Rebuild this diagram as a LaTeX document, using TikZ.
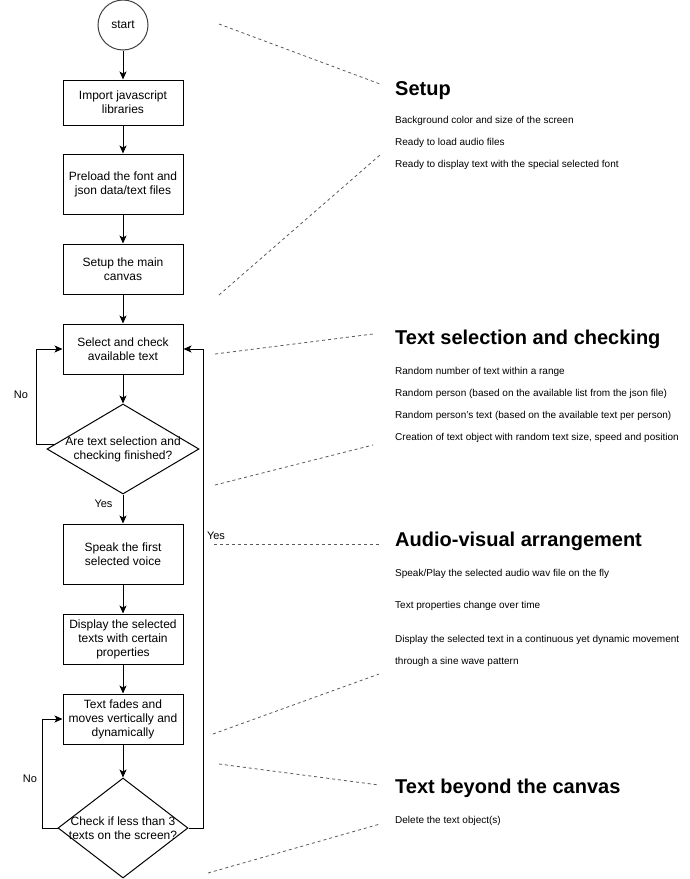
\documentclass[tikz,border=0pt]{standalone}
\usepackage{fontspec}
\setmainfont{Liberation Sans}
\usetikzlibrary{arrows.meta,shapes.geometric,calc}
\begin{document}
\begin{tikzpicture}[x=1pt,y=-1pt,
  box/.style={draw, line width=1pt, minimum width=120pt, align=center, inner sep=2pt, font=\fontsize{12}{14}\selectfont},
  dec/.style={diamond, draw, line width=1pt, inner sep=0pt},
  dtext/.style={font=\fontsize{12}{14}\selectfont, align=center, inner sep=0pt},
  arr/.style={line width=1pt, -{Stealth[length=8pt,width=7pt,inset=2pt]}},
  flow/.style={line width=1pt},
  lab/.style={font=\fontsize{11}{13}\selectfont, inner sep=0pt},
  annot/.style={draw=black!65, line width=0.8pt, dash pattern=on 3pt off 3pt},
  head/.style={font=\fontsize{20}{24}\selectfont\bfseries, anchor=base west, inner sep=0pt},
  item/.style={font=\fontsize{10}{12}\selectfont, anchor=base west, inner sep=0pt}]
\useasboundingbox (0,0) rectangle (690,879);

% flow nodes
\node[circle, draw=black!75, line width=1pt, minimum size=50pt, inner sep=0pt, font=\fontsize{12}{14}\selectfont] (start) at (123,25) {start};
\node[box, minimum height=45pt] (imp) at (123,102.5) {Import javascript\\libraries};
\node[box, minimum height=60pt] (pre) at (123,184) {Preload the font and\\json data/text files};
\node[box, minimum height=50pt] (canv) at (123,269) {Setup the main\\canvas};
\node[box, minimum height=50pt] (sel) at (123,349) {Select and check\\available text};
\node[dec, minimum width=152pt, minimum height=90pt,
  label={[dtext]center:Are text selection and\\checking finished?}] (d1) at (123,449) {};
\node[box, minimum height=60pt] (spk) at (123,554) {Speak the first\\selected voice};
\node[box, minimum height=50pt] (disp) at (123,639) {Display the selected\\texts with certain\\properties};
\node[box, minimum height=50pt] (fade) at (123,719) {Text fades and\\moves vertically and\\dynamically};
\node[dec, minimum width=130pt, minimum height=100pt,
  label={[dtext]center:Check if less than 3\\texts on the screen?}] (d2) at (123,828) {};

% connectors
\draw[arr] (start) -- (imp);
\draw[arr] (imp) -- (pre);
\draw[arr] (pre) -- (canv);
\draw[arr] (canv) -- (sel);
\draw[arr] (sel) -- (d1);
\draw[arr] (d1) -- (spk);
\draw[arr] (spk) -- (disp);
\draw[arr] (disp) -- (fade);
\draw[arr] (fade) -- (d2);
\draw[arr] ($(d1.west)!0.11!(d1.north)$) -- ++(-18,0) |- (sel.west);
\draw[arr] (d2.east) -- ++(15,0) |- (sel.east);
\draw[arr] (d2.west) -- ++(-15,0) |- (fade.west);

% labels
\node[lab] (no1) at (21,394.5) {No};
\node[lab] (yes1) at (103.5,504) {Yes};
\node[lab] (yes2) at (216,536) {Yes};
\node[lab] (no2) at (30,779) {No};

% annotation dashed lines
\coordinate (a1s) at (219,24);  \coordinate (a1e) at (380,84);
\coordinate (a2s) at (219,295); \coordinate (a2e) at (380,155);
\coordinate (a3s) at (215,354); \coordinate (a3e) at (373,334);
\coordinate (a4s) at (215,485); \coordinate (a4e) at (373,445);
\coordinate (a5s) at (214,544); \coordinate (a5e) at (379,544);
\coordinate (a6s) at (213,734); \coordinate (a6e) at (379,674);
\coordinate (a7s) at (219,764); \coordinate (a7e) at (379,785);
\coordinate (a8s) at (208,873); \coordinate (a8e) at (380,824);
\foreach \i in {1,...,8} \draw[annot] (a\i s) -- (a\i e);

% right-side annotations
\node[head] (h1) at (395,95) {Setup};
\node[item] (h1a) at (395,123) {Background color and size of the screen};
\node[item] (h1b) at (395,145) {Ready to load audio files};
\node[item] (h1c) at (395,167) {Ready to display text with the special selected font};

\node[head] (h2) at (395,344) {Text selection and checking};
\node[item] (h2a) at (395,374) {Random number of text within a range};
\node[item] (h2b) at (395,396) {Random person (based on the available list from the json file)};
\node[item] (h2c) at (395,418) {Random person's text (based on the available text per person)};
\node[item] (h2d) at (395,440) {Creation of text object with random text size, speed and position};

\node[head] (h3) at (395,546) {Audio-visual arrangement};
\node[item] (h3a) at (395,576) {Speak/Play the selected audio wav file on the fly};
\node[item] (h3b) at (395,608) {Text properties change over time};
\node[item] (h3c) at (395,642) {Display the selected text in a continuous yet dynamic movement};
\node[item] (h3d) at (395,664) {through a sine wave pattern};

\node[head] (h4) at (395,793) {Text beyond the canvas};
\node[item] (h4a) at (395,823) {Delete the text object(s)};
\end{tikzpicture}
\end{document}
